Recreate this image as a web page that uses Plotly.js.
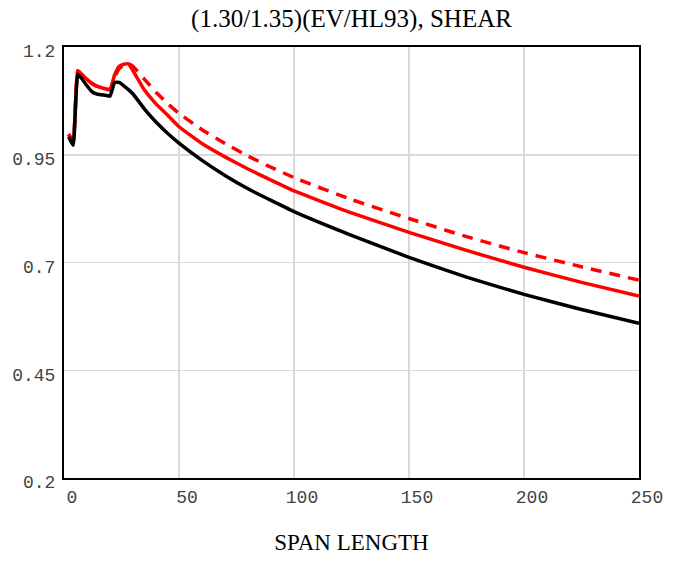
<!DOCTYPE html>
<html>
<head>
<meta charset="utf-8">
<script src="https://cdn.plot.ly/plotly-3.0.1.min.js"></script>
<style>html,body{margin:0;padding:0;background:#fff;}</style>
</head>
<body>
<div id="chart" style="width:685px;height:561px;"></div>
<script>
var spanLength = [2, 4, 6, 8, 10, 12, 14, 16, 18, 20, 22, 24, 26, 28, 30, 35, 40, 45, 50, 60, 70, 80, 90, 100, 125, 150, 175, 200, 225, 250];
var blackSeries = [0.992, 0.972, 1.137, 1.125, 1.110, 1.097, 1.091, 1.089, 1.088, 1.086, 1.118, 1.118, 1.110, 1.101, 1.091, 1.056, 1.026, 1.000, 0.977, 0.937, 0.902, 0.871, 0.844, 0.818, 0.763, 0.712, 0.666, 0.626, 0.591, 0.559];
var redSolid = [0.998, 0.982, 1.145, 1.135, 1.125, 1.116, 1.110, 1.106, 1.103, 1.101, 1.135, 1.155, 1.160, 1.161, 1.145, 1.100, 1.068, 1.042, 1.015, 0.976, 0.945, 0.917, 0.891, 0.866, 0.815, 0.770, 0.728, 0.689, 0.654, 0.622];
var redDashed = [0.998, 0.982, 1.145, 1.135, 1.125, 1.116, 1.110, 1.106, 1.103, 1.101, 1.130, 1.150, 1.158, 1.161, 1.155, 1.125, 1.095, 1.069, 1.046, 1.008, 0.976, 0.947, 0.921, 0.897, 0.846, 0.802, 0.760, 0.723, 0.690, 0.659];
var xTicks = [0, 50, 100, 150, 200, 250];
var yTicks = [0.2, 0.45, 0.7, 0.95, 1.2];
var yTickText = ['0.2', '0.45', '0.7', '0.95', '1.2'];
var titleText = '(1.30/1.35)(EV/HL93), SHEAR';
var xTitleText = 'SPAN LENGTH';

var traces = [
  {x: spanLength, y: redDashed, mode: 'lines', line: {color: '#ff0000', width: 3.5, dash: '11px,8px', shape: 'spline', smoothing: 0.4}, hoverinfo: 'skip'},
  {x: spanLength, y: redSolid, mode: 'lines', line: {color: '#ff0000', width: 3.5, shape: 'spline', smoothing: 0.4}, hoverinfo: 'skip'},
  {x: spanLength, y: blackSeries, mode: 'lines', line: {color: '#000000', width: 3.5, shape: 'spline', smoothing: 0.4}, hoverinfo: 'skip'}
];

var layout = {
  width: 685, height: 561,
  margin: {l: 64, r: 46, t: 47, b: 83, pad: 0},
  paper_bgcolor: '#ffffff', plot_bgcolor: '#ffffff',
  showlegend: false,
  title: {text: titleText, font: {family: 'Liberation Serif', size: 25, color: '#000'}, x: 0.5, xanchor: 'center', xref: 'paper', y: 0.968, yanchor: 'middle'},
  xaxis: {
    range: [0, 250], tickvals: xTicks, ticktext: xTicks.map(String),
    showgrid: true, gridcolor: '#d9d9d9', gridwidth: 1.5, zeroline: false,
    showline: true, linecolor: '#000', linewidth: 2, mirror: true,
    ticks: '', ticklabelshift: 8, ticklabelstandoff: 1,
    tickfont: {family: 'Liberation Mono', size: 18, color: '#444'},
    title: {text: xTitleText, font: {family: 'Liberation Serif', size: 23, color: '#000'}, standoff: 27}
  },
  yaxis: {
    range: [0.2, 1.2], tickvals: yTicks, ticktext: yTickText,
    showgrid: true, gridcolor: '#d9d9d9', gridwidth: 1.5, zeroline: false,
    showline: true, linecolor: '#000', linewidth: 2, mirror: true,
    ticks: '', ticklabelshift: 4, ticklabelstandoff: 3,
    tickfont: {family: 'Liberation Mono', size: 18, color: '#444'}
  }
};

Plotly.newPlot('chart', traces, layout, {displayModeBar: false, staticPlot: true});
</script>
</body>
</html>
